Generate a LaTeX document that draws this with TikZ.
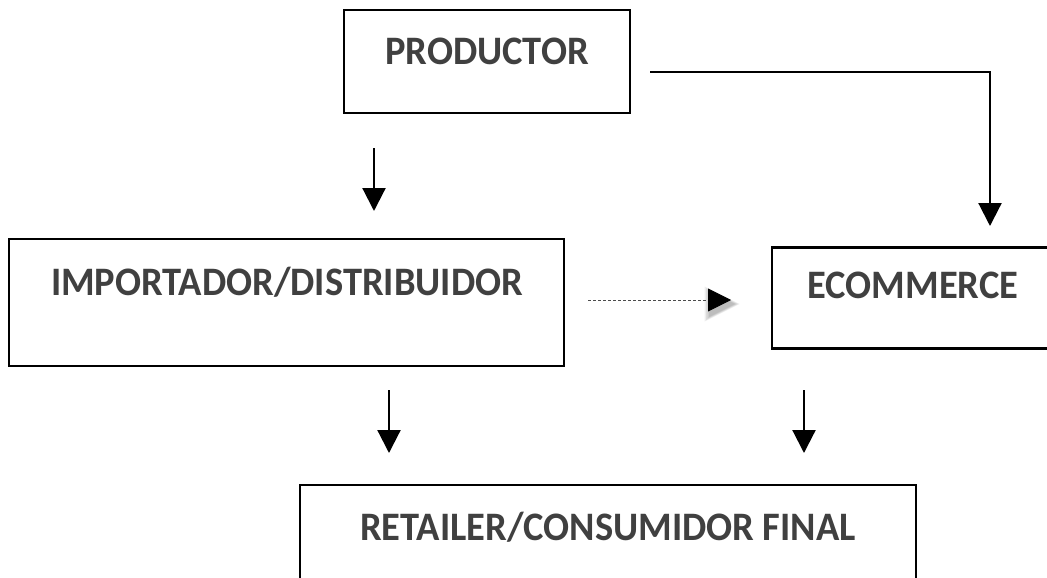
\documentclass[tikz,border=0pt]{standalone}
\usepackage{fontspec}
\setmainfont{Carlito}
\usetikzlibrary{arrows.meta}
\definecolor{txt}{HTML}{404040}
\begin{document}
\begin{tikzpicture}[x=1pt,y=-1pt,
  box/.style={draw=black,line width=2.6pt,inner sep=0pt,outer sep=0pt},
  lbl/.style={text=txt,font=\fontsize{38.5}{40}\selectfont\bfseries,inner sep=0pt,anchor=base},
  arr/.style={line width=2.2pt,-{Triangle[length=23pt,width=23pt]}},
  darr/.style={line width=0.9pt,draw=black!70,dash pattern=on 3pt off 2pt,-{Triangle[length=23pt,width=23pt,color=black,fill=black]}},
  shadowtri/.style={fill=black,opacity=0.07}]
\clip (0,0) rectangle (1047,578);
\fill[white] (0,0) rectangle (1047,578);
% boxes
\node[box,minimum width=286pt,minimum height=103pt] (prod) at (487,61.5) {};
\node[box,minimum width=555pt,minimum height=127pt] (imp) at (286.5,302.5) {};
\node[box,minimum width=300pt,minimum height=101pt] (ecom) at (922,298) {};
\node[box,minimum width=616pt,minimum height=120pt] (ret) at (608,545) {};
% labels
\node[lbl] (prodt) at (487,64) {\scalebox{1}[1.05]{PRODUCTOR}};
\node[lbl] (impt) at (287,295) {\scalebox{1}[1.05]{IMPORTADOR/DISTRIBUIDOR}};
\node[lbl] (ecomt) at (913,298) {\scalebox{1}[1.05]{ECOMMERCE}};
\node[lbl] (rett) at (608,540) {\scalebox{1}[1.05]{RETAILER/CONSUMIDOR FINAL}};
% connector ends
\coordinate (a1s) at (374,148);
\coordinate (a1e) at (374,211);
\coordinate (a2s) at (650,72);
\coordinate (a2k) at (990,72);
\coordinate (a2e) at (990,226);
\coordinate (a3s) at (588,300);
\coordinate (a3e) at (731,300);
\coordinate (a4s) at (389,390);
\coordinate (a4e) at (389,453);
\coordinate (a5s) at (804,390);
\coordinate (a5e) at (804,453);
% connectors
\draw[arr] (a1s) -- (a1e);
\draw[arr] (a2s) -- (a2k) -- (a2e);
\foreach \d in {0,1.5,3,4.5}{
  \fill[shadowtri] (709-\d,291-\d) -- (735+\d,304) -- (709-\d,317+\d) -- cycle;
}
\draw[darr] (a3s) -- (a3e);
\draw[arr] (a4s) -- (a4e);
\draw[arr] (a5s) -- (a5e);
\end{tikzpicture}
\end{document}
